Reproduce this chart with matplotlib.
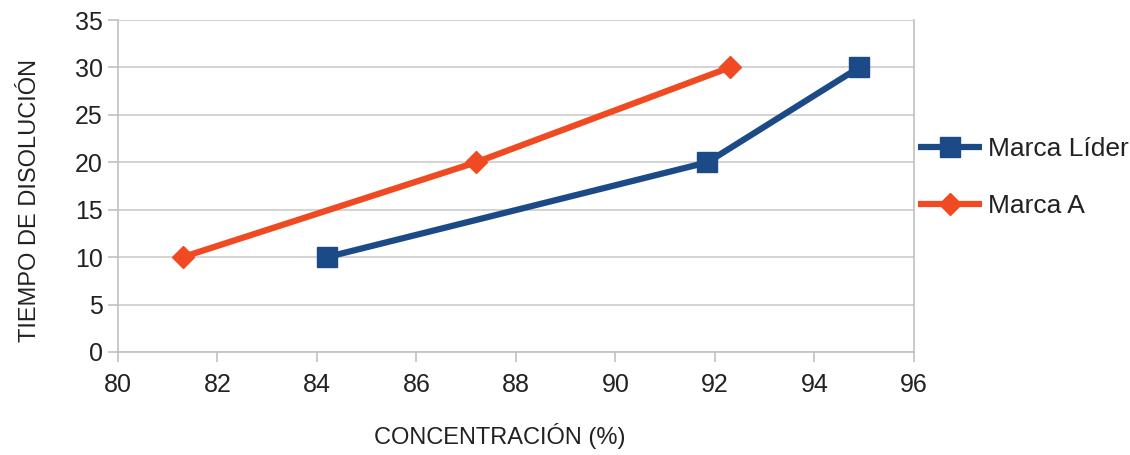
import matplotlib.pyplot as plt

plt.rcParams['font.family'] = ['Liberation Sans', 'DejaVu Sans']

lider_x = [84.2, 91.85, 94.9]
lider_y = [10, 20, 30]
marca_a_x = [81.3, 87.2, 92.3]
marca_a_y = [10, 20, 30]

fig = plt.figure(figsize=(11.3, 4.55), dpi=100)
ax = fig.add_axes([0.1044, 0.2264, 0.7044, 0.7296])

ax.plot(lider_x, lider_y, color='#1b4a87', lw=4.5, marker='s', ms=14,
        label='Marca Líder', solid_capstyle='butt', zorder=3)
ax.plot(marca_a_x, marca_a_y, color='#f04a23', lw=4.5, marker='D', ms=11,
        label='Marca A', solid_capstyle='butt', zorder=3)

ax.set_xlim(80, 96)
ax.set_ylim(0, 35)
ax.set_xticks(range(80, 97, 2))
ax.set_yticks(range(0, 36, 5))
ax.grid(axis='y', color='#d0d0d0', lw=1.3)
ax.set_axisbelow(True)
for s in ax.spines.values():
    s.set_color('#c0c0c0')
    s.set_linewidth(1.2)
ax.spines['top'].set_visible(False)
ax.tick_params(colors='#c0c0c0', labelcolor='#222222', labelsize=18,
               length=7, width=1.2)
ax.tick_params(axis='x', pad=8)
ax.tick_params(axis='y', pad=4)

ax.set_xlabel('CONCENTRACIÓN (%)', fontsize=17, color='#222222')
ax.set_ylabel('TIEMPO DE DISOLUCIÓN', fontsize=17, color='#222222')
ax.xaxis.set_label_coords(0.48, -0.215)
ax.yaxis.set_label_coords(-0.097, 0.455)

fig.legend(loc='center left', bbox_to_anchor=(0.791, 0.609), frameon=False,
           fontsize=19, handlelength=2.45, handletextpad=0.2, labelspacing=1.25,
           labelcolor='#222222')

fig.savefig('out.png', dpi=100)
